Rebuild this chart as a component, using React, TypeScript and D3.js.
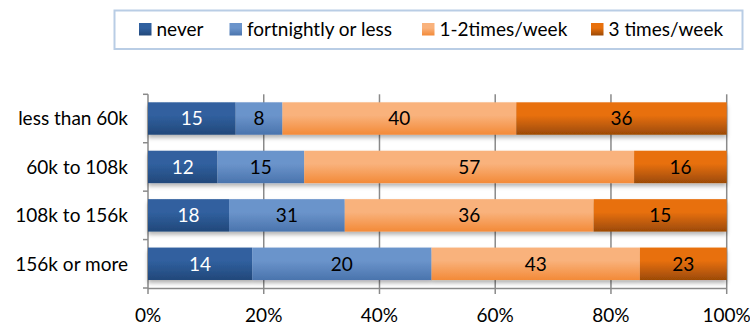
import React from "react";
import * as d3 from "d3";

const categories = ["less than 60k", "60k to 108k", "108k to 156k", "156k or more"];
const seriesNames = ["never", "fortnightly or less", "1-2times/week", "3 times/week"];
// bar segment values (per category, per series)
const neverVals = [15, 12, 14, 18];
const fortnightVals = [8, 15, 20, 31];
const weekly12Vals = [40, 57, 43, 36];
const weekly3Vals = [36, 16, 23, 15];
// data labels as shown on the chart
const neverLabels = ["15", "12", "18", "14"];
const fortnightLabels = ["8", "15", "31", "20"];
const weekly12Labels = ["40", "57", "36", "43"];
const weekly3Labels = ["36", "16", "15", "23"];
const xTicks = [0, 0.2, 0.4, 0.6, 0.8, 1];

const W = 750;
const H = 326;
const FONT = "Lato, 'Open Sans', sans-serif";
const FS = 19;

const colors = [
  { top: "#30609f", bottom: "#22487a" },
  { top: "#6b94cb", bottom: "#4a74ad" },
  { top: "#f9b27c", bottom: "#f38a38" },
  { top: "#e8700c", bottom: "#9c4a06" },
];
const labelColors = ["#ffffff", "#000000", "#000000", "#000000"];

export default function App() {
  const values = [neverVals, fortnightVals, weekly12Vals, weekly3Vals];
  const labels = [neverLabels, fortnightLabels, weekly12Labels, weekly3Labels];

  const x = d3.scaleLinear().domain([0, 1]).range([148, 726.7]);
  const y = d3.scaleBand<string>().domain(categories).range([94.3, 288]).paddingInner(0.33).paddingOuter(0.165);

  const rows = categories.map((c, i) => {
    const vals = values.map((v) => v[i]);
    const total = d3.sum(vals);
    let acc = 0;
    return vals.map((v, s) => {
      const x0 = acc / total;
      acc += v;
      const x1 = acc / total;
      return { c, s, x0, x1, label: labels[s][i] };
    });
  });

  const gridColor = "#8a8a8a";
  const boundaries = [y.range()[0], ...categories.map((c) => (y(c) as number) + y.bandwidth() + (y.step() - y.bandwidth()) / 2)];

  const legendX = [139, 229.5, 422, 591];

  return (
    <svg width={W} height={H} style={{ position: "absolute", left: 0, top: 0, background: "#fff" }} fontFamily={FONT}>
      <defs>
        {colors.map((c, i) => (
          <linearGradient key={i} id={`g${i}`} x1="0" y1="0" x2="0" y2="1">
            <stop offset="0" stopColor={c.top} />
            <stop offset="0.4" stopColor={c.top} />
            <stop offset="1" stopColor={c.bottom} />
          </linearGradient>
        ))}
        <filter id="shadow" x="-5%" y="-20%" width="110%" height="160%">
          <feDropShadow dx="0" dy="3" stdDeviation="2" floodColor="#000" floodOpacity="0.3" />
        </filter>
      </defs>

      {/* legend */}
      <rect x={114.5} y={10.5} width={628} height={38.5} fill="#fff" stroke="#b9cde5" strokeWidth={2} />
      {seriesNames.map((n, i) => (
        <g key={n}>
          <rect x={legendX[i]} y={23} width={12.5} height={12.5} fill={`url(#g${i})`} />
          <text x={legendX[i] + 17.5} y={35.5} fontSize={FS} fill="#000">
            {n}
          </text>
        </g>
      ))}

      {/* gridlines */}
      {xTicks.map((t) => (
        <line key={t} x1={x(t)} x2={x(t)} y1={y.range()[0]} y2={294} stroke={gridColor} strokeWidth={1.5} />
      ))}
      {/* y axis ticks */}
      {boundaries.map((b, i) => (
        <line key={i} x1={143} x2={148} y1={b} y2={b} stroke={gridColor} strokeWidth={1.5} />
      ))}
      <line x1={148} x2={726.7} y1={288.5} y2={288.5} stroke={gridColor} strokeWidth={1.5} />

      {/* bars */}
      {rows.map((segs, i) => (
        <g key={categories[i]} filter="url(#shadow)">
          {segs.map((d) => (
            <rect
              key={d.s}
              x={x(d.x0)}
              width={x(d.x1) - x(d.x0)}
              y={y(d.c)}
              height={y.bandwidth()}
              fill={`url(#g${d.s})`}
            />
          ))}
        </g>
      ))}
      {rows.map((segs, i) => (
        <g key={"l" + categories[i]}>
          {segs.map((d) => (
            <text
              key={d.s}
              x={(x(d.x0) + x(d.x1)) / 2}
              y={(y(d.c) as number) + y.bandwidth() / 2}
              dy="0.36em"
              textAnchor="middle"
              fontSize={FS}
              fill={labelColors[d.s]}
            >
              {d.label}
            </text>
          ))}
        </g>
      ))}

      {/* category labels */}
      {categories.map((c) => (
        <text key={c} x={128} y={(y(c) as number) + y.bandwidth() / 2} dy="0.36em" textAnchor="end" fontSize={FS} fill="#000">
          {c}
        </text>
      ))}

      {/* x tick labels */}
      {xTicks.map((t) => (
        <text key={t} x={x(t)} y={322} textAnchor="middle" fontSize={FS} fill="#000">
          {d3.format(".0%")(t)}
        </text>
      ))}
    </svg>
  );
}
